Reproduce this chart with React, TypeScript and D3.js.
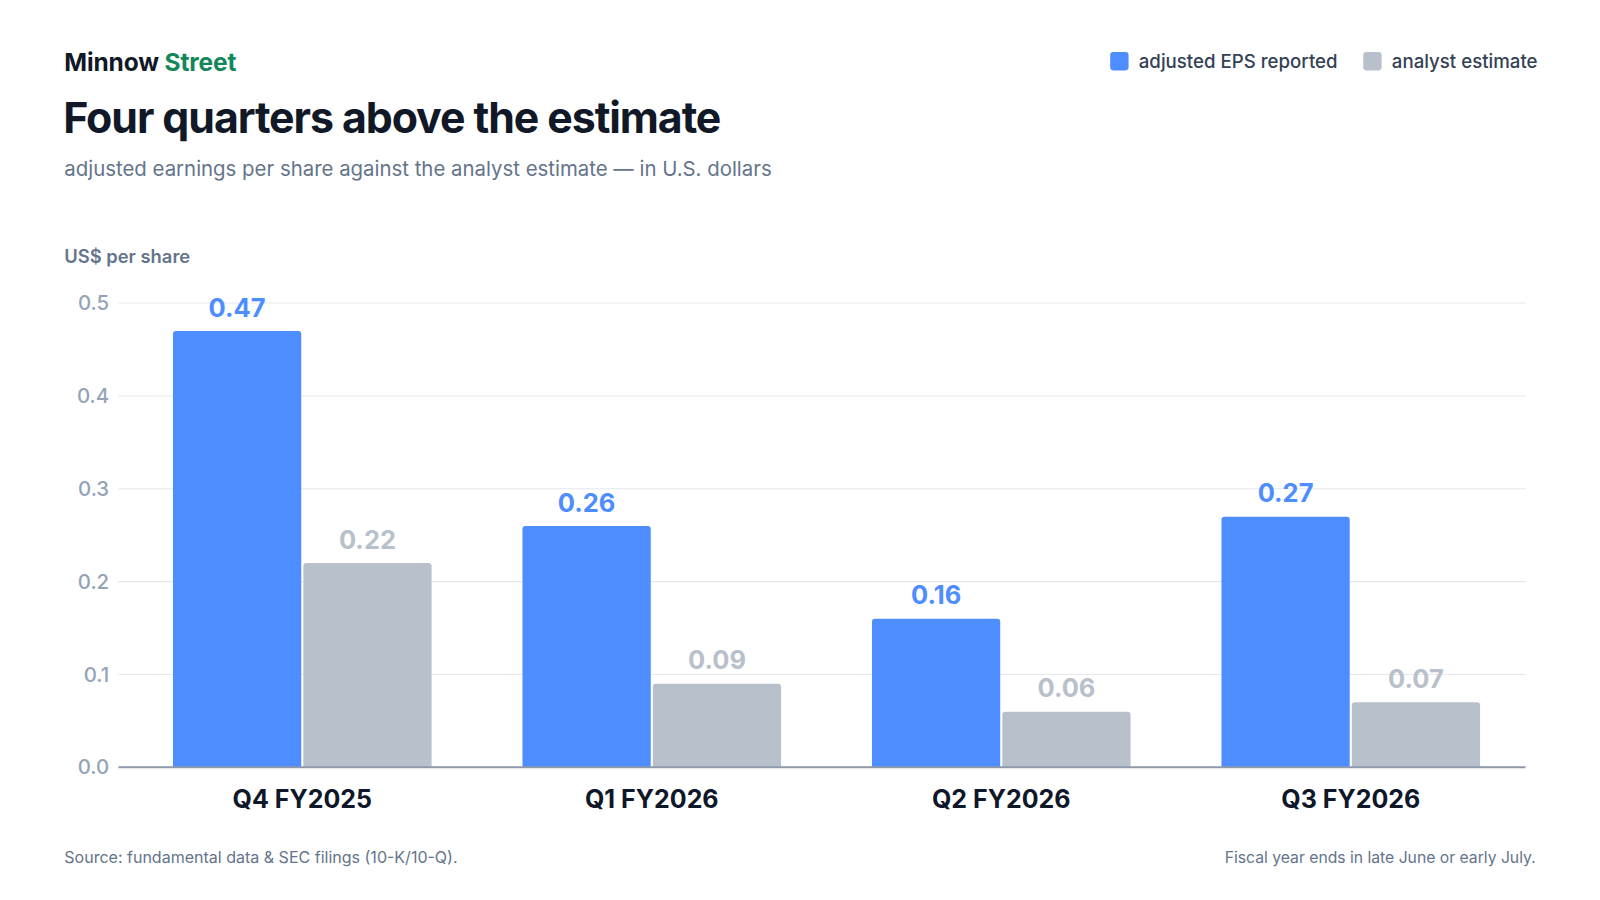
import { useEffect, useRef } from 'react';
import * as d3 from 'd3';

const quarters = ['Q4 FY2025', 'Q1 FY2026', 'Q2 FY2026', 'Q3 FY2026'];
const seriesNames = ['adjusted EPS reported', 'analyst estimate'];
const epsReported = [0.47, 0.26, 0.16, 0.27];
const analystEstimate = [0.22, 0.09, 0.06, 0.07];
const yTicks = [0, 0.1, 0.2, 0.3, 0.4, 0.5];

// drawing space, scaled up to fill the 1600x900 page
const VW = 1568;
const VH = 882;
const FONT = 'Inter, "Noto Sans", sans-serif';
const COLORS = ['#4d8dff', '#b8c1cb'];

function topRoundedBar(x: number, y: number, w: number, h: number, r: number) {
  const rr = Math.min(r, h, w / 2);
  return `M${x},${y + h}V${y + rr}Q${x},${y} ${x + rr},${y}H${x + w - rr}Q${x + w},${y} ${x + w},${y + rr}V${y + h}Z`;
}

export default function App() {
  const svgRef = useRef<SVGSVGElement>(null);

  useEffect(() => {
    if (!svgRef.current) return;
    const svg = d3.select(svgRef.current);
    svg.selectAll('*').remove();

    const plotLeft = 116;
    const plotRight = 1495;
    const plotTop = 297;
    const plotBottom = 752;

    // Header
    const brand = svg.append('text')
      .attr('x', 63).attr('y', 70)
      .attr('font-family', FONT).attr('font-size', 24).attr('font-weight', 700)
      .attr('letter-spacing', '-0.005em');
    brand.append('tspan').attr('fill', '#111827').text('Minnow ');
    brand.append('tspan').attr('fill', '#12875a').text('Street');

    svg.append('text')
      .attr('x', 62).attr('y', 130)
      .attr('font-family', FONT).attr('font-size', 42).attr('font-weight', 700)
      .attr('letter-spacing', '-0.025em')
      .attr('fill', '#111827')
      .text('Four quarters above the estimate');

    svg.append('text')
      .attr('x', 63).attr('y', 172)
      .attr('font-family', FONT).attr('font-size', 20)
      .attr('fill', '#64748b')
      .text('adjusted earnings per share against the analyst estimate — in U.S. dollars');

    // Legend
    const legendX = [1088, 1336];
    seriesNames.forEach((name, i) => {
      svg.append('rect')
        .attr('x', legendX[i]).attr('y', 51)
        .attr('width', 18).attr('height', 18).attr('rx', 3)
        .attr('fill', COLORS[i]);
      svg.append('text')
        .attr('x', legendX[i] + 28).attr('y', 67)
        .attr('font-family', FONT).attr('font-size', 18.3).attr('font-weight', 500)
        .attr('fill', '#334155')
        .text(name);
    });

    // Axis title
    svg.append('text')
      .attr('x', 63).attr('y', 258)
      .attr('font-family', FONT).attr('font-size', 18).attr('font-weight', 600)
      .attr('fill', '#64748b')
      .text('US$ per share');

    const y = d3.scaleLinear().domain([0, 0.5]).range([plotBottom, plotTop]);
    const x0 = d3.scaleBand<string>()
      .domain(quarters)
      .range([125, plotRight])
      .paddingInner(0.26)
      .paddingOuter(0.13);
    const x1 = d3.scaleBand<string>()
      .domain(seriesNames)
      .range([0, x0.bandwidth()])
      .paddingInner(0.016);

    // Grid + ticks
    yTicks.forEach(t => {
      if (t > 0) {
        svg.append('line')
          .attr('x1', plotLeft).attr('x2', plotRight)
          .attr('y1', y(t)).attr('y2', y(t))
          .attr('stroke', '#e5e7eb').attr('stroke-width', 1);
      }
      svg.append('text')
        .attr('x', 107).attr('y', y(t))
        .attr('dy', '0.35em')
        .attr('text-anchor', 'end')
        .attr('font-family', FONT).attr('font-size', 20).attr('font-weight', 500)
        .attr('fill', '#94a3b8')
        .text(d3.format('.1f')(t));
    });

    // Bars
    const seriesValues = [epsReported, analystEstimate];
    quarters.forEach((q, qi) => {
      seriesNames.forEach((s, si) => {
        const v = seriesValues[si][qi];
        const bx = (x0(q) ?? 0) + (x1(s) ?? 0);
        const bw = x1.bandwidth();
        svg.append('path')
          .attr('d', topRoundedBar(bx, y(v), bw, y(0) - y(v), 3))
          .attr('fill', COLORS[si]);
        svg.append('text')
          .attr('x', bx + bw / 2).attr('y', y(v) - 14)
          .attr('text-anchor', 'middle')
          .attr('font-family', FONT).attr('font-size', 25).attr('font-weight', 700)
          .attr('fill', COLORS[si])
          .text(d3.format('.2f')(v));
      });
      svg.append('text')
        .attr('x', (x0(q) ?? 0) + x0.bandwidth() / 2).attr('y', 792)
        .attr('text-anchor', 'middle')
        .attr('font-family', FONT).attr('font-size', 24.5).attr('font-weight', 700)
        .attr('fill', '#0f172a')
        .text(q);
    });

    // Baseline
    svg.append('line')
      .attr('x1', plotLeft).attr('x2', plotRight)
      .attr('y1', y(0)).attr('y2', y(0))
      .attr('stroke', '#8e99ab').attr('stroke-width', 2);

    // Footer
    svg.append('text')
      .attr('x', 63).attr('y', 846)
      .attr('font-family', FONT).attr('font-size', 15.7)
      .attr('fill', '#64748b')
      .text('Source: fundamental data & SEC filings (10-K/10-Q).');
    svg.append('text')
      .attr('x', 1505).attr('y', 846)
      .attr('text-anchor', 'end')
      .attr('font-family', FONT).attr('font-size', 15.4)
      .attr('fill', '#64748b')
      .text('Fiscal year ends in late June or early July.');
  }, []);

  return (
    <svg
      ref={svgRef}
      width={1600}
      height={900}
      viewBox={`0 0 ${VW} ${VH}`}
      style={{ position: 'absolute', left: 0, top: 0, background: '#ffffff', display: 'block' }}
    />
  );
}
